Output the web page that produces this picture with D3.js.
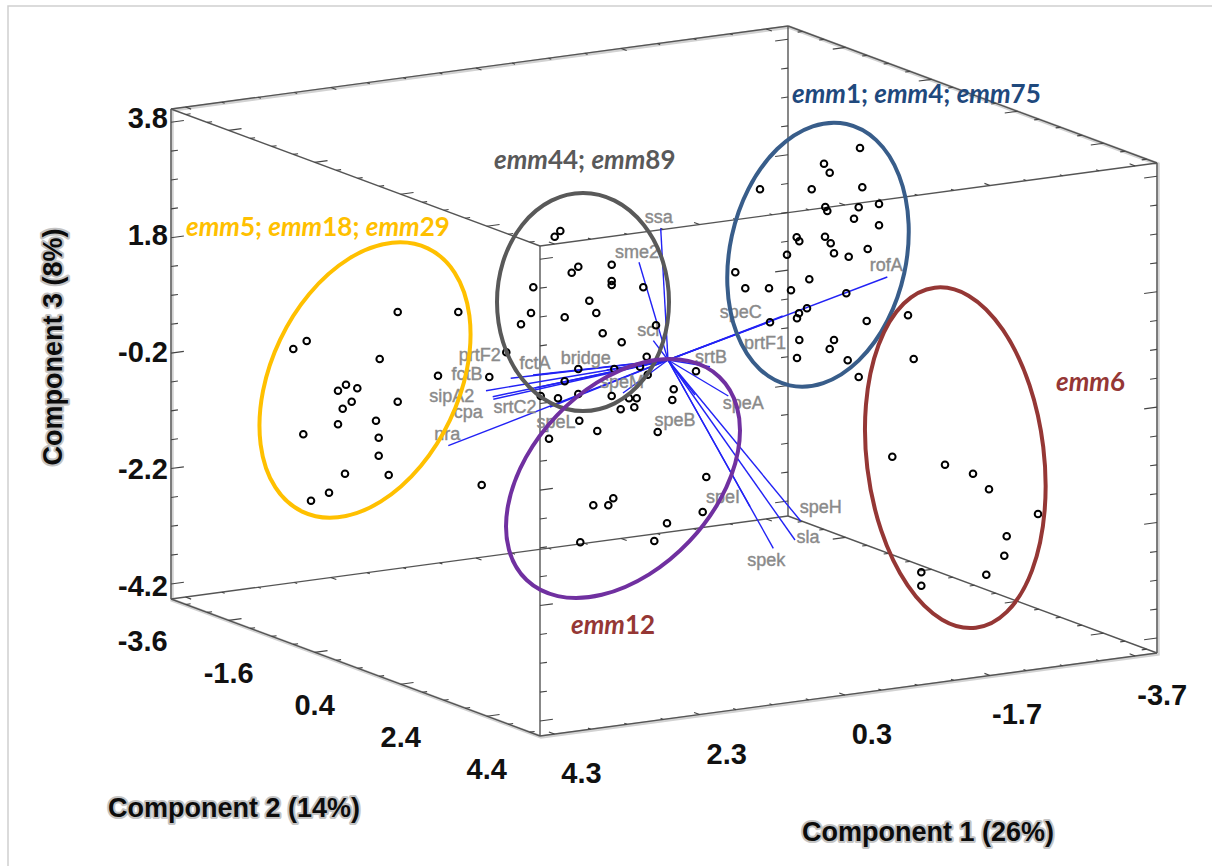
<!DOCTYPE html>
<html>
<head>
<meta charset="utf-8">
<title>PCA biplot</title>
<style>
  body { margin: 0; background: #fff; }
  text { font-family: "Liberation Sans", Arial, sans-serif; }
  .edge { fill: none; stroke: #555; stroke-width: 1.4; }
  .tick { stroke: #444; stroke-width: 1.1; }
  .tickLabel { font-size: 29px; font-weight: bold; fill: #111; }
  .axisTitle { font-size: 27px; font-weight: bold; fill: #0c0c0c; stroke: #c4c4c4; stroke-width: 4; paint-order: stroke; stroke-linejoin: round; }
  .geneLine { stroke: #2222f5; stroke-width: 1.4; }
  .geneLabel { font-size: 18px; fill: #8a8a8a; stroke: #8a8a8a; stroke-width: 0.4; text-anchor: middle; dominant-baseline: central; }
  .score { fill: none; stroke: #000; stroke-width: 2; }
  .cluster { fill: none; stroke-width: 4; }
  .clusterLabel { font-family: Lato, sans-serif; font-size: 26px; font-weight: bold; }
</style>
<script src="https://d3js.org/d3.v7.min.js"></script>
</head>
<body>
<svg width="1212" height="866"></svg>
<script>
// tick labels of the three components
var c1Labels = ["4.3", "2.3", "0.3", "-1.7", "-3.7"];
var c2Labels = ["-3.6", "-1.6", "0.4", "2.4", "4.4"];
var c3Labels = ["3.8", "1.8", "-0.2", "-2.2", "-4.2"];

var scoreU = [22.67, 28.73, 13.57, 12.23, 20.87, 26.7, 31.83, 17.5, 16.7, 18.63, 18.07, 22.67, 17.17, 20.5, 16.7, 13.23, 20.77, 20.77, 17.4, 21.77, 15.8, 14, 31.07,
  38.93, 38.37, 40.73, 40.07, 44.07, 44.07, 44.07, 47.23, 36.23, 41.83, 36, 42.53, 39.37, 35, 48.5, 43.17, 45.07, 47.57, 33.53, 40.73, 44.33, 46.9, 47.67, 39.37, 36.97, 38.7, 40.73, 44.07, 45.8, 46.57, 44.97, 46.33, 50.27, 50.13, 52.5, 40.83, 42.63, 48.67, 37.8,
  42.23, 43.73, 44.23, 53.53, 53.17, 49.6, 40.93, 48.33,
  68.9, 65.3, 65.87, 58.9, 64.07, 69.13, 65.43, 65.63, 68.77, 70.8, 68.3, 70.8, 62.57, 62.83, 65.4, 65.97, 69.67, 66.3, 67.77, 61.6, 56.43, 63.83, 57.43, 59.8, 62, 67.53, 63.6, 62.8, 62.6, 59.9, 69.57, 62.83, 66.3, 65.87, 62.6, 67.67, 68.77,
  73.7, 74.27, 72.13, 77.4, 80.2, 81.8, 86.7, 83.57, 83.33, 81.53, 75.03, 75.03];
var scoreV = [42.4, 42.4, 39.5, 38.7, 37.7, 36.03, 35.9, 35.13, 34.53, 34.77, 33.43, 33.43, 32.73, 31.53, 31.17, 30.17, 29.83, 28.03, 26.23, 26.1, 24.33, 23.53, 25.1,
  50.5, 49.93, 46.93, 46.33, 47.13, 45.5, 45.1, 44.87, 44.87, 43.53, 42.3, 42.3, 41.87, 41.17, 41.07, 40.27, 39.37, 37.93, 38.37, 36.7, 36.7, 36.93, 36.13, 35.47, 34, 33.77, 34.2, 34, 33.77, 33.77, 32.67, 32.87, 34.67, 33.6, 36.47, 31.53, 30.5, 30.4, 29.73,
  23.07, 23.07, 23.77, 25.9, 22.4, 21.27, 19.37, 19.5,
  58.8, 57.23, 56.33, 54.67, 54.67, 54.87, 52.9, 52.5, 52.87, 53.2, 51.73, 51.07, 49.87, 49.47, 49.93, 49.27, 48.7, 48.27, 47.93, 48.13, 46.37, 45.67, 44.77, 44.77, 44.57, 44.27, 42.77, 42.27, 41.77, 41.37, 41.5, 39.6, 39.6, 38.7, 37.8, 37.57, 35.9,
  42.07, 37.7, 27.93, 27.13, 26.23, 24.67, 22.2, 19.97, 18.03, 16.13, 16.37, 15.03];

// gene loadings, all leaving the same origin
var originU = 49.7, originV = 37.6;
var geneNames = ["ssa", "sme2", "scl", "rofA", "speC", "prtF1", "srtB", "speA", "speH", "sla", "spek", "speI", "speB", "prtF2", "fctA", "bridge", "fctB", "sipA2", "cpa", "srtC2", "nra", "speL", "speM"];
var geneU = [48.97, 46.8, 48.23, 71.63, 61.17, 59.9, 53.9, 55.73, 62.97, 62.4, 60.23, 57.9, 52.4, 33.97, 36.2, 43.57, 31.5, 32.17, 32.23, 36.4, 27.73, 37.9, 45.2];
var geneV = [50.77, 47.37, 39.53, 45.9, 42, 41.43, 36.93, 34, 21.5, 19.6, 18.77, 22.93, 34.1, 35.77, 36.1, 36.6, 34.53, 33.93, 33.67, 34.8, 29.03, 32.9, 34.3];

// where each gene label sits relative to the line end (px)
var geneDx = [-2, -2, -5, -1, -42, -5, 1, 15, 20, 13, -7, -27, -20, -31, 2, -21, -19, -41, -25, -20, -1, 6, -1];
var geneDy = [-11, -10, -11, -12, -4, 21, -10, 7, -14, -3, 12, -10, 25, -23, -12, -12, -17, -1, 13, 19, -12, 15, -11];

// hand drawn cluster rings and their captions
var clusterNames = ["emm5; emm18; emm29", "emm44; emm89", "emm1; emm4; emm75", "emm6", "emm12"];
var clusterColors = ["#ffc000", "#595959", "#385d8a", "#953735", "#7030a0"];
var captionColors = ["#ffc000", "#595959", "#1f497d", "#953735", "#953735"];
var ringU = [19.4, 41.2, 64.7, 78.43, 45.2];
var ringV = [35.6, 43.4, 48.13, 27.83, 25.75];
var ringA = [9.4, 8.6, 8.82, 8.86, 9.14];
var ringB = [14.58, 10.9, 13.37, 17.13, 14];
var ringTilt = [25.5, 0, 12.3, -6.9, 43.5];
var captionU = [1.5, 32.3, 62.1, 88.5, 40];
var captionV = [50, 56.7, 63.3, 34.5, 10.2];

var svg = d3.select("svg");

// page plane
var viewX = d3.scaleLinear().domain([0, 98.6]).range([171, 1157]);
var viewY = d3.scaleLinear().domain([0, 71]).range([736, 26]);
var viewLen = d3.scaleLinear().domain([0, 1]).range([0, 10]);

// oblique projection of the box
var c1Dom = [4.5, -4.0], c2Dom = [-3.94, 4.64], c3Dom = [-4.46, 4.03];
var c1X = d3.scaleLinear().domain(c1Dom).range([0, 617]);
var c1Y = d3.scaleLinear().domain(c1Dom).range([0, -83]);
var c2X = d3.scaleLinear().domain(c2Dom).range([-369, 0]);
var c2Y = d3.scaleLinear().domain(c2Dom).range([-137, 0]);
var c3Y = d3.scaleLinear().domain(c3Dom).range([0, -490]);
var project = function(a, b, c) {
  return [540 + c1X(a) + c2X(b), 736 + c1Y(a) + c2Y(b) + c3Y(c)];
};
var line = d3.line();

// outer shadow of the box
var hull = [project(c1Dom[0], c2Dom[0], c3Dom[1]), project(c1Dom[1], c2Dom[0], c3Dom[1]), project(c1Dom[1], c2Dom[1], c3Dom[1]),
  project(c1Dom[1], c2Dom[1], c3Dom[0]), project(c1Dom[0], c2Dom[1], c3Dom[0]), project(c1Dom[0], c2Dom[0], c3Dom[0])];
svg.append("path")
    .attr("d", line(hull) + "Z")
    .attr("transform", "translate(1,1)")
    .attr("fill", "none")
    .attr("stroke", "#d2d2d2")
    .attr("stroke-width", 3.5);

// frame
var frame = svg.append("g");
function edge(p, q) {
  frame.append("path").attr("class", "edge").attr("d", line([p, q]));
}
function tick(p, dx, dy, len) {
  frame.append("line").attr("class", "tick")
      .attr("x1", p[0]).attr("y1", p[1])
      .attr("x2", p[0] + dx * len).attr("y2", p[1] + dy * len);
}
var c1Unit = [0.991, -0.133], c2Unit = [0.938, 0.347];

c2Dom.forEach(function(b, bi) {
  c3Dom.forEach(function(c) {
    edge(project(c1Dom[0], b, c), project(c1Dom[1], b, c));
    d3.range(4.3, -3.8, -0.5).forEach(function(a, i) {
      var s = bi ? -1 : 1;
      tick(project(a, b, c), s * c2Unit[0], s * c2Unit[1], i % 4 ? 3 : 6);
    });
  });
});
c1Dom.forEach(function(a, ai) {
  c3Dom.forEach(function(c) {
    edge(project(a, c2Dom[0], c), project(a, c2Dom[1], c));
    d3.range(-3.6, 4.7, 0.5).forEach(function(b, i) {
      var s = ai ? -1 : 1;
      tick(project(a, b, c), s * c1Unit[0], s * c1Unit[1], i % 4 == 2 ? 13 : 5);
    });
  });
  c2Dom.forEach(function(b) {
    edge(project(a, b, c3Dom[0]), project(a, b, c3Dom[1]));
    d3.range(3.8, -4.3, -0.5).forEach(function(c, i) {
      var s = ai ? -1 : 1;
      tick(project(a, b, c), s * c1Unit[0], s * c1Unit[1], i % 4 ? 7 : 13);
    });
  });
});

// loadings
svg.append("g").selectAll("line")
    .data(geneNames)
  .enter().append("line")
    .attr("class", "geneLine")
    .attr("x1", viewX(originU))
    .attr("y1", viewY(originV))
    .attr("x2", function(d, i) { return viewX(geneU[i]); })
    .attr("y2", function(d, i) { return viewY(geneV[i]); });

svg.append("g").selectAll("text")
    .data(geneNames)
  .enter().append("text")
    .attr("class", "geneLabel")
    .attr("x", function(d, i) { return viewX(geneU[i]) + geneDx[i]; })
    .attr("y", function(d, i) { return viewY(geneV[i]) + geneDy[i]; })
    .text(function(d) { return d; });

// scores
svg.append("g").selectAll("circle")
    .data(scoreU)
  .enter().append("circle")
    .attr("class", "score")
    .attr("r", 3.3)
    .attr("cx", function(d) { return viewX(d); })
    .attr("cy", function(d, i) { return viewY(scoreV[i]); });

// rings
svg.append("g").selectAll("ellipse")
    .data(clusterNames)
  .enter().append("ellipse")
    .attr("class", "cluster")
    .attr("rx", function(d, i) { return viewLen(ringA[i]); })
    .attr("ry", function(d, i) { return viewLen(ringB[i]); })
    .attr("stroke", function(d, i) { return clusterColors[i]; })
    .attr("transform", function(d, i) {
      return "translate(" + viewX(ringU[i]) + "," + viewY(ringV[i]) + ") rotate(" + ringTilt[i] + ")";
    });

// captions, emm in italics and the numbers upright
svg.append("g").selectAll("text")
    .data(clusterNames)
  .enter().append("text")
    .attr("class", "clusterLabel")
    .attr("x", function(d, i) { return viewX(captionU[i]); })
    .attr("y", function(d, i) { return viewY(captionV[i]); })
    .attr("fill", function(d, i) { return captionColors[i]; })
    .each(function(d) {
      var t = d3.select(this);
      d.split(/(emm)/).filter(Boolean).forEach(function(part) {
        t.append("tspan")
            .attr("font-style", part == "emm" ? "italic" : "normal")
            .text(part);
      });
    });

// tick labels
var labelY = d3.scaleLinear().domain([-4.2, 3.8]).range([586, 118]);
svg.append("g").selectAll("text")
    .data(c3Labels)
  .enter().append("text")
    .attr("class", "tickLabel")
    .attr("x", 168)
    .attr("y", function(d) { return labelY(+d); })
    .attr("text-anchor", "end")
    .attr("dominant-baseline", "central")
    .text(function(d) { return d; });

svg.append("g").selectAll("text")
    .data(c1Labels)
  .enter().append("text")
    .attr("class", "tickLabel")
    .attr("x", function(d) { return project(+d, c2Dom[1], c3Dom[0])[0] + 27; })
    .attr("y", function(d) { return project(+d, c2Dom[1], c3Dom[0])[1] + 39; })
    .attr("text-anchor", "middle")
    .attr("dominant-baseline", "central")
    .text(function(d) { return d; });

svg.append("g").selectAll("text")
    .data(c2Labels)
  .enter().append("text")
    .attr("class", "tickLabel")
    .attr("x", function(d) { return project(c1Dom[0], +d, c3Dom[0])[0] - 43; })
    .attr("y", function(d) { return project(c1Dom[0], +d, c3Dom[0])[1] + 37; })
    .attr("text-anchor", "middle")
    .attr("dominant-baseline", "central")
    .text(function(d) { return d; });

// axis titles
svg.append("text").attr("class", "axisTitle").attr("x", 234).attr("y", 817).attr("text-anchor", "middle").text("Component 2 (14%)");
svg.append("text").attr("class", "axisTitle").attr("x", 928).attr("y", 841).attr("text-anchor", "middle").text("Component 1 (26%)");
svg.append("text").attr("class", "axisTitle").attr("text-anchor", "middle")
    .attr("transform", "translate(62,347) rotate(-90)").text("Component 3 (8%)");

// picture border
svg.append("path")
    .attr("d", line([[8, 866], [8, 6], [1212, 6]]))
    .attr("fill", "none")
    .attr("stroke", "#cfcfcf")
    .attr("stroke-width", 1.5);
</script>
</body>
</html>
